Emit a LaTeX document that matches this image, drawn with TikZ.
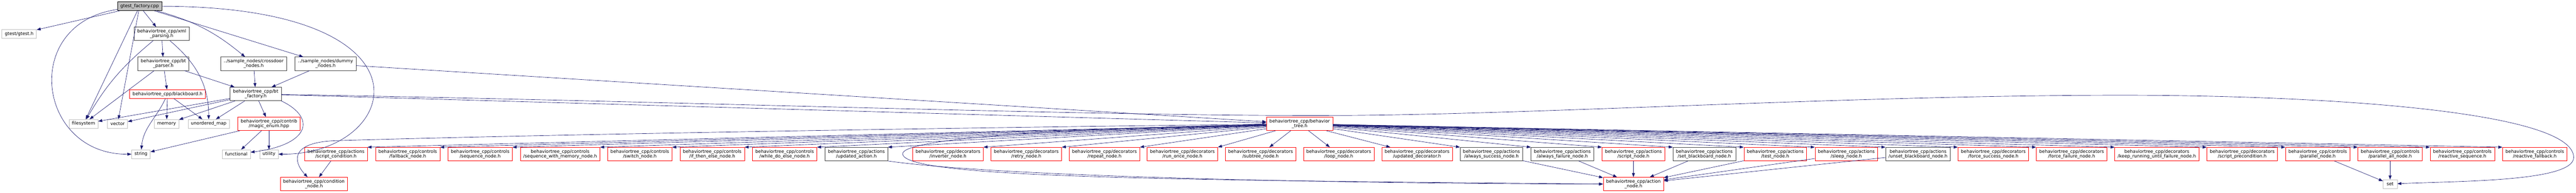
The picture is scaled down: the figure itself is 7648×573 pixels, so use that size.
\documentclass[tikz,border=0pt]{standalone}
\usepackage{fontspec}
\setmainfont{DejaVu Sans}
\usepackage{xcolor}
\usetikzlibrary{arrows.meta}
\definecolor{azulseta}{HTML}{191970}

\begin{document}
\begin{tikzpicture}[x=0.75pt, y=-0.75pt,
    font=\fontsize{10}{10.5}\selectfont,
    caixa/.style={rectangle, line width=0.75pt, inner xsep=6.5pt, inner ysep=2pt, align=center, minimum height=19.5pt},
    duas/.style={minimum height=30pt},
    raiz/.style={caixa, draw=black, fill=black!25},
    doc/.style={caixa, draw=black!75},
    corte/.style={caixa, draw=red},
    ext/.style={caixa, draw=black!25, minimum width=31.5pt},
    seta/.style={draw=azulseta, line width=0.75pt, -{Triangle[length=9pt, width=6.5pt]}}]
    \useasboundingbox (0,0) rectangle (7648,573);

    % Arquivo principal e includes diretos
    \node at (414.5,18.5) (root) [raiz] {gtest\_factory.cpp};
    \node at (57,100.5) (gt) [ext] {gtest/gtest.h};
    \node at (480,100.5) (xml) [doc, duas] {behaviortree\_cpp/xml\\\_parsing.h};
    \node at (485,189.5) (par) [doc, duas] {behaviortree\_cpp/bt\\\_parser.h};
    \node at (753,189.5) (cd) [doc, duas] {../sample\_nodes/crossdoor\\\_nodes.h};
    \node at (966.5,189.5) (dm) [doc, duas] {../sample\_nodes/dummy\\\_nodes.h};
    \node at (497.5,279.5) (bb) [corte] {behaviortree\_cpp/blackboard.h};
    \node at (759,279.5) (fac) [doc, duas] {behaviortree\_cpp/bt\\\_factory.h};

    % Cabecalhos do sistema e nivel do meio
    \node at (248,368) (fsys) [ext] {filesystem};
    \node at (349,368) (vec) [ext] {vector};
    \node at (494.5,368) (mem) [ext] {memory};
    \node at (619.5,368) (um) [ext] {unordered\_map};
    \node at (798.5,368) (mag) [corte, duas] {behaviortree\_cpp/contrib\\/magic\_enum.hpp};
    \node at (3858.5,368) (bt) [corte, duas] {behaviortree\_cpp/behavior\\\_tree.h};
    \node at (418.5,458) (str) [ext] {string};
    \node at (701.5,458) (fun) [ext] {functional};
    \node at (798.5,458) (uti) [ext] {utility};

    % Linha de baixo
    \node at (997.5,458) (sc) [corte, duas] {behaviortree\_cpp/actions\\/script\_condition.h};
    \node at (1210.5,458) (fb) [corte, duas] {behaviortree\_cpp/controls\\/fallback\_node.h};
    \node at (1425.5,458) (sq) [corte, duas] {behaviortree\_cpp/controls\\/sequence\_node.h};
    \node at (1663,458) (sqm) [corte, duas] {behaviortree\_cpp/controls\\/sequence\_with\_memory\_node.h};
    \node at (1899.5,458) (sw) [corte, duas] {behaviortree\_cpp/controls\\/switch\_node.h};
    \node at (2114.5,458) (ite) [corte, duas] {behaviortree\_cpp/controls\\/if\_then\_else\_node.h};
    \node at (2329.5,458) (wde) [corte, duas] {behaviortree\_cpp/controls\\/while\_do\_else\_node.h};
    \node at (2542.5,458) (ua) [doc, duas] {behaviortree\_cpp/actions\\/updated\_action.h};
    \node at (2814.5,458) (inv) [corte, duas] {behaviortree\_cpp/decorators\\/inverter\_node.h};
    \node at (3047,458) (ret) [corte, duas] {behaviortree\_cpp/decorators\\/retry\_node.h};
    \node at (3279,458) (rep) [corte, duas] {behaviortree\_cpp/decorators\\/repeat\_node.h};
    \node at (3510.5,458) (ro) [corte, duas] {behaviortree\_cpp/decorators\\/run\_once\_node.h};
    \node at (3742.5,458) (sub) [corte, duas] {behaviortree\_cpp/decorators\\/subtree\_node.h};
    \node at (3974.5,458) (lp) [corte, duas] {behaviortree\_cpp/decorators\\/loop\_node.h};
    \node at (4207,458) (ud) [corte, duas] {behaviortree\_cpp/decorators\\/updated\_decorator.h};
    \node at (4428,458) (as) [doc, duas] {behaviortree\_cpp/actions\\/always\_success\_node.h};
    \node at (4638.5,458) (af) [doc, duas] {behaviortree\_cpp/actions\\/always\_failure\_node.h};
    \node at (4849.5,458) (sn) [corte, duas] {behaviortree\_cpp/actions\\/script\_node.h};
    \node at (5060,458) (sbb) [doc, duas] {behaviortree\_cpp/actions\\/set\_blackboard\_node.h};
    \node at (5270.5,458) (tn) [corte, duas] {behaviortree\_cpp/actions\\/test\_node.h};
    \node at (5481.5,458) (sl) [corte, duas] {behaviortree\_cpp/actions\\/sleep\_node.h};
    \node at (5694.5,458) (ubb) [doc, duas] {behaviortree\_cpp/actions\\/unset\_blackboard\_node.h};
    \node at (5918,458) (fsu) [corte, duas] {behaviortree\_cpp/decorators\\/force\_success\_node.h};
    \node at (6150.5,458) (ffa) [corte, duas] {behaviortree\_cpp/decorators\\/force\_failure\_node.h};
    \node at (6403.5,458) (kr) [corte, duas] {behaviortree\_cpp/decorators\\/keep\_running\_until\_failure\_node.h};
    \node at (6657,458) (sp) [corte, duas] {behaviortree\_cpp/decorators\\/script\_precondition.h};
    \node at (6881,458) (pn) [corte, duas] {behaviortree\_cpp/controls\\/parallel\_node.h};
    \node at (7096,458) (pa) [corte, duas] {behaviortree\_cpp/controls\\/parallel\_all\_node.h};
    \node at (7310.5,458) (rs) [corte, duas] {behaviortree\_cpp/controls\\/reactive\_sequence.h};
    \node at (7525.5,458) (rf) [corte, duas] {behaviortree\_cpp/controls\\/reactive\_fallback.h};

    % Ultima linha
    \node at (932,547) (cond) [corte, duas] {behaviortree\_cpp/condition\\\_node.h};
    \node at (4849.5,547) (act) [corte, duas] {behaviortree\_cpp/action\\\_node.h};
    \node at (7096,547) (set) [ext] {set};

    % Arestas do arquivo principal
    \draw[seta] (root) -- (gt);
    \draw[seta] (root) .. controls (60,70) and (110,460) .. (str);
    \draw[seta] (root) -- (fsys);
    \draw[seta] (root) -- (vec);
    \draw[seta] (root) -- (xml);
    \draw[seta] (root) to[bend left=12] (cd);
    \draw[seta] (root) -- (dm);
    \draw[seta] (root) .. controls (1320,20) and (1190,460) .. (uti);

    % xml_parsing.h e bt_parser.h
    \draw[seta] (xml) -- (par);
    \draw[seta] (xml) to[bend right=10] (fsys);
    \draw[seta] (xml) to[out=-40,in=90] (um);
    \draw[seta] (par) -- (fsys);
    \draw[seta] (par) -- (bb);
    \draw[seta] (par) -- (fac);

    % sample_nodes
    \draw[seta] (cd) -- (fac);
    \draw[seta] (dm) -- (fac);
    \draw[seta] (dm) -- (bt);

    % blackboard.h
    \draw[seta] (bb) to[out=-115,in=85] (str);
    \draw[seta] (bb) -- (mem);
    \draw[seta] (bb) -- (um);

    % bt_factory.h
    \draw[seta] (fac) -- (fsys);
    \draw[seta] (fac) -- (vec);
    \draw[seta] (fac) -- (mem);
    \draw[seta] (fac) -- (um);
    \draw[seta] (fac) -- (mag);
    \draw[seta] (fac.south east) .. controls (940,350) and (920,430) .. (fun);
    \draw[seta] (fac) -- (bt);
    \draw[seta] (fac) .. controls (2000,300) and (3300,348) .. (4000,343)
        .. controls (4600,339) and (5500,283) .. (6300,283)
        .. controls (6900,283) and (7641,330) .. (7641,468)
        .. controls (7641,540) and (7300,538) .. (set);

    % magic_enum.hpp
    \draw[seta] (mag) -- (str);
    \draw[seta] (mag) -- (fun);
    \draw[seta] (mag) -- (uti);

    % behavior_tree.h
    \draw[seta] (bt) -- (sc.north east);
    \draw[seta] (bt) -- (fb.north east);
    \draw[seta] (bt) -- (sq.north east);
    \draw[seta] (bt) -- (sqm.north east);
    \draw[seta] (bt) -- (sw.north east);
    \draw[seta] (bt) -- (ite.north east);
    \draw[seta] (bt) -- (wde.north east);
    \draw[seta] (bt) -- (ua.north east);
    \draw[seta] (bt) -- (inv.north east);
    \draw[seta] (bt) -- (ret.north east);
    \draw[seta] (bt) -- (rep.north east);
    \draw[seta] (bt) -- (ro.north east);
    \draw[seta] (bt) -- (sub);
    \draw[seta] (bt) -- (lp);
    \draw[seta] (bt) -- (ud);
    \draw[seta] (bt) -- (as.north west);
    \draw[seta] (bt) -- (af.north west);
    \draw[seta] (bt) -- (sn.north west);
    \draw[seta] (bt) -- (sbb.north west);
    \draw[seta] (bt) -- (tn.north west);
    \draw[seta] (bt) -- (sl.north west);
    \draw[seta] (bt) -- (ubb.north west);
    \draw[seta] (bt) -- (fsu.north west);
    \draw[seta] (bt) -- (ffa.north west);
    \draw[seta] (bt) -- (kr.north west);
    \draw[seta] (bt) -- (sp.north west);
    \draw[seta] (bt) -- (pn.north west);
    \draw[seta] (bt) -- (pa.north west);
    \draw[seta] (bt) -- (rs.north west);
    \draw[seta] (bt) -- (rf.north west);
    \draw[seta] (bt) .. controls (2800,380) and (1600,400) .. (1000,418)
        .. controls (860,422) and (870,480) .. (cond);
    \draw[seta] (bt) .. controls (3000,385) and (2680,420) .. (2680,457)
        .. controls (2680,530) and (3500,535) .. (act.west);

    % condition_node.h, action_node.h e set
    \draw[seta] (sc) -- (cond);
    \draw[seta] (ua.south east) .. controls (3047,536) and (4345,547) .. (act.west);
    \draw[seta] (as) -- (act);
    \draw[seta] (af) -- (act);
    \draw[seta] (sn) -- (act);
    \draw[seta] (sbb) -- (act);
    \draw[seta] (tn) -- (act);
    \draw[seta] (sl) -- (act);
    \draw[seta] (ubb) -- (act);
    \draw[seta] (pn) -- (set);
    \draw[seta] (pa) -- (set);
\end{tikzpicture}
\end{document}
